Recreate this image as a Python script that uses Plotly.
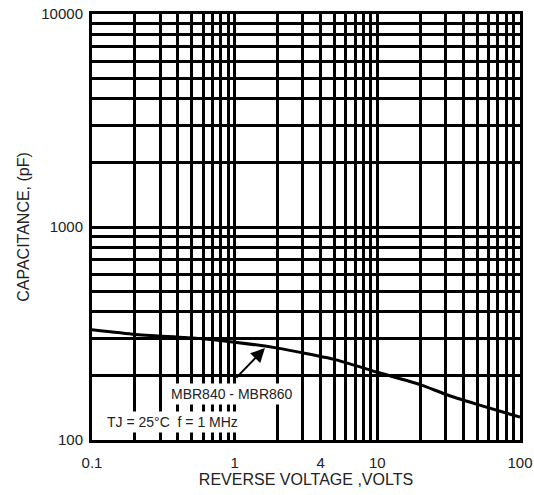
import numpy as np
import plotly.graph_objects as go

# Data (reverse voltage in volts, capacitance in pF)
voltage = [0.1, 0.2, 0.55, 1.0, 2.0, 5.0, 10.0, 20.0, 30.0, 50.0, 100.0]
capacitance = [329, 313, 300, 288, 270, 239, 208, 182, 164, 147, 128]

x_tick_vals = [0.1, 1, 4, 10, 100]
x_tick_text = ["0.1", "1", "4", "10", "100"]
y_tick_vals = [100, 1000, 10000]
y_tick_text = ["100", "1000", "10000"]

series_label = "MBR840 - MBR860"
cond_label = "TJ = 25°C  f = 1 MHz"

FONT = "Liberation Sans, Arial, sans-serif"

fig = go.Figure()
fig.add_trace(go.Scatter(
    x=voltage, y=capacitance, mode="lines",
    line=dict(color="black", width=3, shape="spline", smoothing=0.5),
    showlegend=False, hoverinfo="skip",
))

axis_common = dict(
    type="log",
    automargin=False,
    showgrid=True, gridcolor="black", gridwidth=2.5,
    showline=True, linecolor="black", linewidth=3, mirror=True,
    ticks="", zeroline=False,
    tickfont=dict(family=FONT, size=15, color="#222"),
    minor=dict(dtick="D1", showgrid=True, gridcolor="black", gridwidth=2.5, ticks=""),
)

fig.update_xaxes(
    **axis_common,
    range=[-1, 2],
    tickmode="array", tickvals=x_tick_vals, ticktext=x_tick_text,
    ticklabelstandoff=7,
    title=dict(text="REVERSE VOLTAGE ,VOLTS", font=dict(family=FONT, size=16, color="#222"), standoff=2),
)
fig.update_yaxes(
    **axis_common,
    range=[2, 4],
    tickmode="array", tickvals=y_tick_vals, ticktext=y_tick_text,
    ticklabelstandoff=3,
    title=dict(text="CAPACITANCE, (pF)", font=dict(family=FONT, size=16, color="#222"), standoff=8),
)

# Text labels with white backgrounds
fig.add_annotation(
    x=np.log10(0.341), y=np.log10(164), xref="x", yref="y",
    text=series_label, showarrow=False, xanchor="left", yanchor="middle",
    font=dict(family=FONT, size=14, color="#222"),
    bgcolor="white", borderpad=2,
)
fig.add_annotation(
    x=np.log10(0.1214), y=np.log10(121), xref="x", yref="y",
    text=cond_label, showarrow=False, xanchor="left", yanchor="middle",
    font=dict(family=FONT, size=14, color="#222"),
    bgcolor="white", borderpad=2,
)
# Arrow pointing to the curve
fig.add_annotation(
    x=np.log10(1.63), y=np.log10(270), xref="x", yref="y",
    text="", showarrow=True, ax=-30, ay=31,
    arrowhead=2, arrowsize=1.4, arrowwidth=2, arrowcolor="black",
)

fig.update_layout(
    width=534, height=495,
    margin=dict(l=92, r=14, t=14, b=55),
    paper_bgcolor="white", plot_bgcolor="white",
    font=dict(family=FONT),
)

# remove the default page margin so the figure sits at the window's top-left corner
fig.write_html(
    "out.html",
    config={"displayModeBar": False},
    post_script="document.body.style.margin='0';",
)
